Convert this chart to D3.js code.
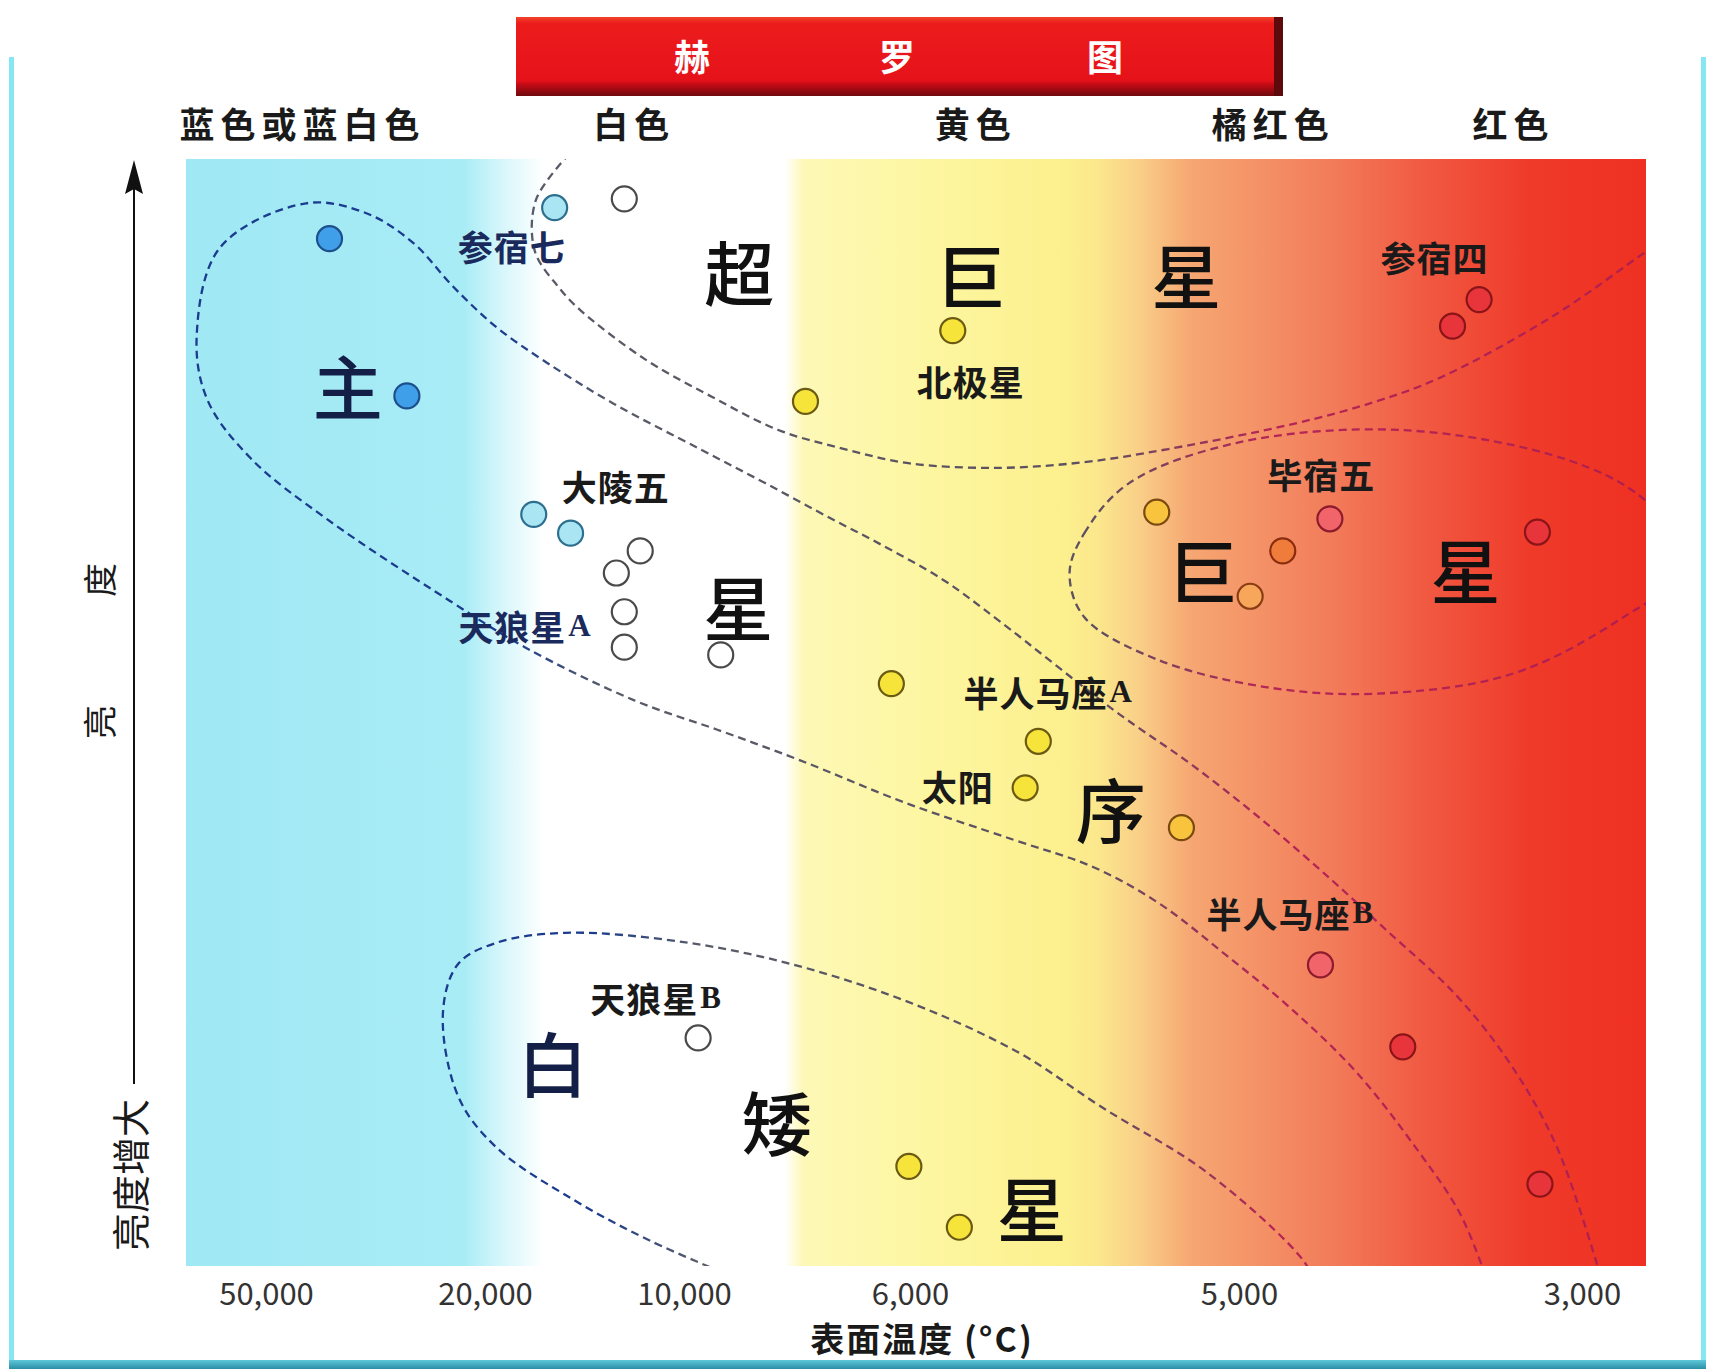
<!DOCTYPE html>
<html>
<head>
<meta charset="utf-8">
<script src="https://cdn.jsdelivr.net/npm/d3@7"></script>
<style>
    body { margin: 0; background: #fff; }
    svg { display: block; }
    text { font-family: "Noto Sans CJK SC", "Noto Sans", sans-serif; }
</style>
</head>
<body>
<div id="chart"></div>
<script>
// surface temperature ticks (°C)
const tempTicks = [50000, 20000, 10000, 6000, 5000, 3000];

// colour names written above the plot, placed by temperature
const bandNames = ["蓝色或蓝白色", "白色", "黄色", "橘红色", "红色"];
const bandTemps = [45000, 12500, 5800, 4800, 3400];

// stars: temperature, relative brightness (0 - 100), colour group
const starTemps  = [41300, 30700, 16500, 17550, 15700, 13000, 12200, 13400, 13000, 13000,
                    9350, 9750, 7850, 5870, 6330, 5610, 5650, 6020, 5850, 5250,
                    4935, 5175, 4745, 4470, 3260, 3755, 3600, 4525, 4045, 3245];
const starBright = [92.8, 78.6, 95.6, 67.9, 66.2, 96.4, 64.6, 62.6, 59.1, 55.9,
                    55.2, 20.6, 78.1, 84.5, 52.6, 47.4, 43.2, 9.0, 3.5, 68.1,
                    60.5, 39.6, 64.6, 67.5, 66.3, 84.9, 87.3, 27.2, 19.8, 7.4];
const starGroup  = ["blue", "blue", "cyan", "cyan", "cyan", "white", "white", "white", "white", "white",
                    "white", "white", "yellow", "yellow", "yellow", "yellow", "yellow", "yellow", "yellow", "amber",
                    "peach", "amber", "orange", "pink", "red", "red", "red", "pink", "red", "red"];

// named stars
const starNames  = ["参宿七", "北极星", "参宿四", "大陵五", "毕宿五", "天狼星A", "半人马座A", "太阳", "半人马座B", "天狼星B"];
const nameTemps  = [18650, 5815, 3860, 13430, 4520, 17990, 5580, 5855, 4700, 11400];
const nameBright = [92.2, 80.0, 91.2, 70.5, 71.6, 57.9, 51.9, 43.4, 32.0, 24.3];

// big region characters
const regionChars  = ["超", "巨", "星", "主", "星", "序", "巨", "星", "白", "矮", "星"];
const regionTemps  = [9020, 5815, 5160, 38800, 9040, 5390, 5110, 3680, 16600, 8360, 5630];
const regionBright = [89.9, 89.7, 89.7, 79.6, 59.7, 41.4, 63.0, 63.0, 18.5, 13.1, 5.4];

// dashed region outlines as [temperature, brightness]
const superGiantEdge = [[15740, 100.5], [17440, 96.3], [17500, 91.7], [16340, 88.5], [15240, 86.4],
    [11950, 81.9], [9500, 78.5], [8320, 75.5], [7160, 73.8], [6000, 72.5], [5730, 72.1],
    [5475, 72.6], [5215, 73.8], [4675, 76.1], [4200, 78.1], [3820, 80.3], [3170, 85.8],
    [2630, 91.6], [2450, 93.5]];

const mainSeqEdge = [[2890, -1], [3145, 10.7], [3420, 18.3], [3730, 24.4], [4145, 30.4], [4455, 34.8],
    [4850, 40.1], [5140, 45.2], [5380, 50.2], [5730, 58.3], [5900, 62.0], [6560, 65.3],
    [7390, 67.5], [8555, 70.7], [9720, 73.8], [13540, 77.9], [16890, 81.6], [19420, 84.8],
    [24410, 88.5], [29800, 92.4], [36250, 95.1], [44500, 96.0], [56300, 92.0], [59500, 83.9],
    [58000, 78.2], [52000, 72.9], [41500, 67.4], [24850, 60.1], [18000, 55.9], [12500, 51.1],
    [9330, 48.3], [7955, 45.7], [6060, 41.8], [5685, 38.5], [5440, 36.0], [5240, 32.7],
    [5040, 28.1], [4700, 23.3], [4315, 17.5], [3965, 10.6], [3710, 4.7], [3560, -1]];

const whiteDwarfEdge = [[9120, -1], [11725, 2.3], [15570, 6.0], [19420, 10.7], [23660, 15.3],
    [25760, 22.9], [23660, 27.3], [19420, 29.2], [15960, 30.1], [9930, 29.2], [7900, 27.0],
    [5975, 23.5], [5665, 19.2], [5420, 14.4], [5095, 8.4], [4625, 0.5], [4560, -1.5]];

const giantEdge = [[5515, 62.6], [5470, 66.2], [5335, 70.7], [5000, 74.4], [4035, 75.5], [3080, 72.8],
    [2635, 69.2], [2370, 63.5], [2760, 58.6], [3405, 53.5], [4200, 51.7], [4845, 52.3],
    [5250, 54.8], [5470, 58.6]];


class HRDiagram {

    constructor(parentElement) {
        this.parentElement = parentElement;
        this.initVis();
    }

    initVis() {
        let vis = this;

        vis.width = 1715;
        vis.height = 1369;
        vis.plot = {left: 186, right: 1646, top: 159, bottom: 1266};

        vis.svg = d3.select("#" + vis.parentElement)
            .append("svg")
            .attr("width", vis.width)
            .attr("height", vis.height);

        vis.defs = vis.svg.append("defs");

        // the diagram is schematic: every temperature tick has its own spot
        vis.xScale = d3.scaleLinear()
            .domain(tempTicks)
            .range([266, 485, 684, 910, 1239, 1582]);

        vis.yScale = d3.scaleLinear()
            .domain([0, 100])
            .range([vis.plot.bottom, vis.plot.top]);

        vis.starFill = {
            blue: "#3f9fe8", cyan: "#a9e5f3", white: "#ffffff", yellow: "#f6e43a",
            amber: "#f8c43e", peach: "#f7a65a", orange: "#f07c3c", pink: "#f0646a", red: "#e8353c"
        };
        vis.starStroke = {
            blue: "#1d4f8c", cyan: "#2d6f8e", white: "#4a4a4a", yellow: "#6b5a14",
            amber: "#7a4a10", peach: "#8a3c14", orange: "#8a2c10", pink: "#8c1c2c", red: "#8a1418"
        };

        vis.drawFrame();
        vis.drawPlot();
        vis.drawAxes();
    }

    drawFrame() {
        let vis = this;

        // page frame
        vis.svg.append("rect")
            .attr("x", 9).attr("y", 57).attr("width", 5).attr("height", 1306)
            .attr("fill", "#86e6f3");
        vis.svg.append("rect")
            .attr("x", 1701).attr("y", 57).attr("width", 5).attr("height", 1306)
            .attr("fill", "#86e6f3");

        let bottomGrad = vis.defs.append("linearGradient")
            .attr("id", "bottom-grad").attr("x1", 0).attr("x2", 0).attr("y1", 0).attr("y2", 1);
        bottomGrad.append("stop").attr("offset", 0).attr("stop-color", "#5fc8da");
        bottomGrad.append("stop").attr("offset", 1).attr("stop-color", "#2b8ea6");
        vis.svg.append("rect")
            .attr("x", 9).attr("y", 1360).attr("width", 1697).attr("height", 9)
            .attr("fill", "url(#bottom-grad)");

        // title banner
        let bannerGrad = vis.defs.append("linearGradient")
            .attr("id", "banner-grad").attr("x1", 0).attr("x2", 0).attr("y1", 0).attr("y2", 1);
        [[0, "#f2442a"], [0.08, "#ec1c1c"], [0.8, "#e6121a"], [0.86, "#c00a14"], [1, "#6e0a0e"]]
            .forEach(s => bannerGrad.append("stop").attr("offset", s[0]).attr("stop-color", s[1]));

        vis.svg.append("rect")
            .attr("x", 516).attr("y", 17).attr("width", 767).attr("height", 79)
            .attr("fill", "url(#banner-grad)");
        vis.svg.append("rect")
            .attr("x", 1274).attr("y", 17).attr("width", 9).attr("height", 79)
            .attr("fill", "#5e0a0c");

        const titleChars = ["赫", "罗", "图"];
        const titleX = [692, 897, 1105];
        titleChars.forEach((c, i) => {
            vis.svg.append("text")
                .attr("x", titleX[i]).attr("y", 55)
                .attr("text-anchor", "middle")
                .attr("dominant-baseline", "central")
                .attr("fill", "#fff")
                .attr("font-size", 36)
                .attr("font-weight", 700)
                .text(c);
        });

        // colour names
        vis.svg.selectAll(".band-label")
            .data(bandNames)
            .enter()
            .append("text")
            .attr("class", "band-label")
            .attr("x", (d, i) => vis.xScale(bandTemps[i]))
            .attr("y", 122)
            .attr("text-anchor", "middle")
            .attr("dominant-baseline", "central")
            .attr("font-size", 35)
            .attr("font-weight", 700)
            .attr("letter-spacing", 6)
            .attr("fill", "#1a1a1a")
            .text(d => d);
    }

    drawPlot() {
        let vis = this;
        const p = vis.plot;

        // colour background: blue -> white -> yellow -> orange -> red
        let bgGrad = vis.defs.append("linearGradient")
            .attr("id", "bg-grad").attr("x1", 0).attr("x2", 1).attr("y1", 0).attr("y2", 0);
        [[0, "#9fe8f4"], [0.19, "#a8ecf6"], [0.215, "#d4f6fb"], [0.245, "#ffffff"],
         [0.41, "#ffffff"], [0.423, "#fdf8b6"], [0.51, "#fdf6a0"], [0.6, "#fcf08e"],
         [0.625, "#fbe78c"], [0.652, "#f9d088"], [0.689, "#f6a672"], [0.786, "#f27b5a"],
         [0.847, "#f15a42"], [0.921, "#ef3a2a"], [1, "#ee3022"]]
            .forEach(s => bgGrad.append("stop").attr("offset", s[0]).attr("stop-color", s[1]));

        vis.svg.append("rect")
            .attr("x", p.left).attr("y", p.top)
            .attr("width", p.right - p.left).attr("height", p.bottom - p.top)
            .attr("fill", "url(#bg-grad)");

        vis.defs.append("clipPath").attr("id", "plot-clip")
            .append("rect")
            .attr("x", p.left).attr("y", p.top)
            .attr("width", p.right - p.left).attr("height", p.bottom - p.top);

        // dashed outlines: navy on the blue side, grey in the middle, crimson on the red side
        function strokeGrad(id, navyEnd) {
            let g = vis.defs.append("linearGradient")
                .attr("id", id)
                .attr("gradientUnits", "userSpaceOnUse")
                .attr("x1", p.left).attr("x2", p.right).attr("y1", 0).attr("y2", 0);
            [[0, "#1b3c8e"], [navyEnd, "#1b3c8e"], [navyEnd + 0.07, "#585c68"],
             [0.62, "#5e5060"], [0.74, "#b42656"], [1, "#b01e4e"]]
                .forEach(s => g.append("stop").attr("offset", s[0]).attr("stop-color", s[1]));
        }
        strokeGrad("edge-super", 0.12);
        strokeGrad("edge-main", 0.22);
        strokeGrad("edge-dwarf", 0.28);
        strokeGrad("edge-giant", 0.2);

        const line = d3.line()
            .x(d => vis.xScale(d[0]))
            .y(d => vis.yScale(d[1]))
            .curve(d3.curveCatmullRom.alpha(0.5));

        const closedLine = d3.line()
            .x(d => vis.xScale(d[0]))
            .y(d => vis.yScale(d[1]))
            .curve(d3.curveCatmullRomClosed.alpha(0.5));

        const edges = vis.svg.append("g").attr("clip-path", "url(#plot-clip)");

        const edgeList = [
            {data: superGiantEdge, gen: line, stroke: "edge-super"},
            {data: mainSeqEdge, gen: line, stroke: "edge-main"},
            {data: whiteDwarfEdge, gen: line, stroke: "edge-dwarf"},
            {data: giantEdge, gen: closedLine, stroke: "edge-giant"}
        ];

        edges.selectAll(".edge")
            .data(edgeList)
            .enter()
            .append("path")
            .attr("class", "edge")
            .attr("d", d => d.gen(d.data))
            .attr("fill", "none")
            .attr("stroke", d => "url(#" + d.stroke + ")")
            .attr("stroke-width", 2.3)
            .attr("stroke-dasharray", "8,5");

        // big region characters
        vis.svg.selectAll(".region-label")
            .data(regionChars)
            .enter()
            .append("text")
            .attr("class", "region-label")
            .attr("x", (d, i) => vis.xScale(regionTemps[i]))
            .attr("y", (d, i) => vis.yScale(regionBright[i]))
            .attr("text-anchor", "middle")
            .attr("dominant-baseline", "central")
            .attr("font-size", 70)
            .attr("font-weight", 500)
            .attr("fill", (d, i) => regionTemps[i] > 15000 ? "#141f48" : "#111")
            .text(d => d);

        // stars
        vis.svg.selectAll(".star")
            .data(starTemps)
            .enter()
            .append("circle")
            .attr("class", "star")
            .attr("cx", d => vis.xScale(d))
            .attr("cy", (d, i) => vis.yScale(starBright[i]))
            .attr("r", 12.5)
            .attr("fill", (d, i) => vis.starFill[starGroup[i]])
            .attr("stroke", (d, i) => vis.starStroke[starGroup[i]])
            .attr("stroke-width", 2.2);

        // star names, trailing A / B set in a serif face
        let names = vis.svg.selectAll(".star-name")
            .data(starNames)
            .enter()
            .append("text")
            .attr("class", "star-name")
            .attr("x", (d, i) => vis.xScale(nameTemps[i]))
            .attr("y", (d, i) => vis.yScale(nameBright[i]))
            .attr("text-anchor", "middle")
            .attr("dominant-baseline", "central")
            .attr("font-size", 35)
            .attr("font-weight", 700)
            .attr("letter-spacing", 1)
            .attr("fill", (d, i) => nameTemps[i] > 15000 ? "#1b2a5c" : "#1a1a1a");

        names.each(function(d) {
            let t = d3.select(this);
            let last = d.slice(-1);
            if (last === "A" || last === "B") {
                t.append("tspan").text(d.slice(0, -1));
                t.append("tspan")
                    .attr("font-family", "Liberation Serif")
                    .attr("font-size", 31)
                    .attr("dx", 2)
                    .text(last);
            } else {
                t.text(d);
            }
        });
    }

    drawAxes() {
        let vis = this;

        vis.xAxis = d3.axisBottom(vis.xScale)
            .tickValues(tempTicks)
            .tickFormat(d3.format(","))
            .tickSize(0)
            .tickPadding(17);

        let xg = vis.svg.append("g")
            .attr("class", "x-axis")
            .attr("transform", `translate(0, ${vis.plot.bottom})`)
            .call(vis.xAxis);

        xg.select(".domain").remove();
        xg.selectAll("text")
            .attr("font-family", "Open Sans")
            .attr("font-size", 31)
            .attr("fill", "#333");

        vis.svg.append("text")
            .attr("x", 922).attr("y", 1337)
            .attr("text-anchor", "middle")
            .attr("dominant-baseline", "central")
            .attr("font-size", 34)
            .attr("font-weight", 700)
            .attr("letter-spacing", 2)
            .attr("fill", "#1a1a1a")
            .text("表面温度 (°C)");

        // brightness arrow
        vis.svg.append("line")
            .attr("x1", 134).attr("x2", 134)
            .attr("y1", 185).attr("y2", 1084)
            .attr("stroke", "#111").attr("stroke-width", 2);
        vis.svg.append("path")
            .attr("d", "M134,160 L125,194 L134,189 L143,194 Z")
            .attr("fill", "#111");

        vis.svg.append("text")
            .attr("transform", "translate(128, 1175) rotate(-90)")
            .attr("text-anchor", "middle")
            .attr("dominant-baseline", "central")
            .attr("font-size", 38)
            .attr("fill", "#1a1a1a")
            .text("亮度增大");

        const sideChars = ["亮", "度"];
        const sideY = [722, 580];
        sideChars.forEach((c, i) => {
            vis.svg.append("text")
                .attr("transform", `translate(98, ${sideY[i]}) rotate(-90)`)
                .attr("text-anchor", "middle")
                .attr("dominant-baseline", "central")
                .attr("font-size", 34)
                .attr("fill", "#1a1a1a")
                .text(c);
        });
    }
}

new HRDiagram("chart");
</script>
</body>
</html>
